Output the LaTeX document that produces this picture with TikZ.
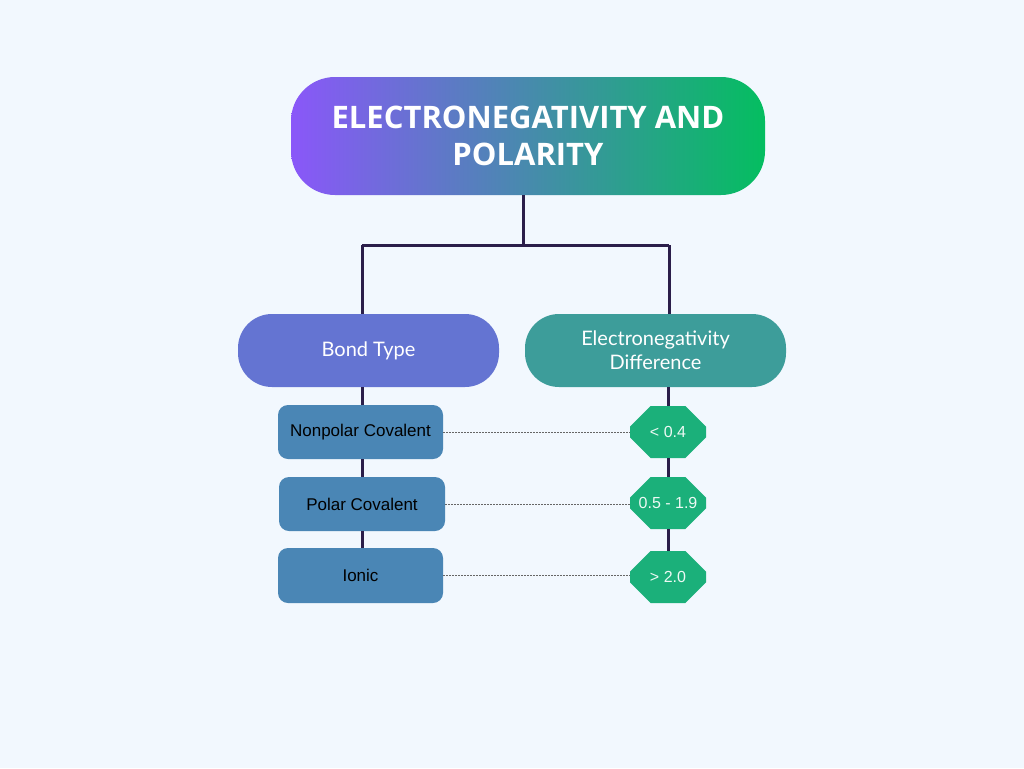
\documentclass[tikz,border=0pt]{standalone}
\usepackage{fontspec}
\setmainfont{Liberation Sans}
\newfontfamily\titlefont{Open Sans}
\newfontfamily\headfont{Lato}
\usetikzlibrary{positioning,shapes.misc}

\definecolor{bgblue}{HTML}{F2F8FE}
\definecolor{titlepurple}{HTML}{8A57F9}
\definecolor{titlegreen}{HTML}{04BE60}
\definecolor{bondblue}{HTML}{6474D2}
\definecolor{diffteal}{HTML}{3D9D9A}
\definecolor{typeblue}{HTML}{4A86B5}
\definecolor{valgreen}{HTML}{1BB07A}
\definecolor{treeline}{HTML}{2B1E4A}

\begin{document}
\begin{tikzpicture}[
  x=1pt, y=-1pt,
  titlebox/.style={rounded corners=44pt, left color=titlepurple, right color=titlegreen, draw=none, minimum width=474pt, minimum height=118pt, inner sep=0pt, align=center, text=white, font=\titlefont\bfseries\fontsize{31}{37}\selectfont},
  headbox/.style={rounded corners=34pt, draw=none, minimum width=261pt, minimum height=73pt, inner sep=0pt, align=center, text=white, font=\headfont\fontsize{20}{24}\selectfont},
  typebox/.style={rounded corners=10pt, fill=typeblue, minimum width=165pt, minimum height=54pt, inner sep=0pt, align=center, text=black, font=\fontsize{17}{20}\selectfont},
  valbox/.style={chamfered rectangle, chamfered rectangle xsep=13pt, chamfered rectangle ysep=15pt, fill=valgreen, minimum width=76pt, minimum height=52pt, inner sep=0pt, text=white!92!valgreen, font=\fontsize{16}{19}\selectfont},
  tree_line/.style={draw=treeline, line width=3pt},
  dot_line/.style={draw=black!60, line width=0.9pt, dash pattern=on 2pt off 1pt}
]
  % page
  \fill[bgblue] (0,0) rectangle (1024,768);

  % title and the two heads
  \node[titlebox] (title) at (528,136) {ELECTRONEGATIVITY AND\\POLARITY};
  \node[headbox, fill=bondblue] (bond) at (368.5,350.5) {Bond Type};
  \node[headbox, fill=diffteal] (diff) at (655.5,350.5) {Electronegativity\\Difference};

  % bond types (left column)
  \node[typebox] (nonpolar) at (360.5,432) {Nonpolar Covalent};
  \node[typebox, minimum width=166pt] (polar) at (362,504) {Polar Covalent};
  \node[typebox, minimum height=55pt] (ionic) at (360.5,575.5) {Ionic};

  % difference values (right column)
  \node[valbox] (lt04) at (668,432) {< 0.4};
  \node[valbox] (mid) at (668,503) {0.5 - 1.9};
  \node[valbox] (gt20) at (668,577) {> 2.0};

  % tree
  \coordinate (split) at (523,245);
  \coordinate (lcol) at (362,245);
  \coordinate (rcol) at (669,245);
  \draw[tree_line] (title.south -| split) -- (split);
  \draw[tree_line] (lcol) -- (rcol);
  \draw[tree_line] (lcol) -- (bond.north -| lcol);
  \draw[tree_line] (rcol) -- (diff.north -| rcol);
  \draw[tree_line] (bond.south -| lcol) -- (nonpolar.north -| lcol);
  \draw[tree_line] (nonpolar.south -| lcol) -- (polar.north -| lcol);
  \draw[tree_line] (polar.south -| lcol) -- (ionic.north -| lcol);
  \draw[tree_line] (diff.south -| lt04) -- (lt04.north);
  \draw[tree_line] (lt04.south) -- (mid.north);
  \draw[tree_line] (mid.south) -- (gt20.north);

  % links between type and value
  \draw[dot_line] (nonpolar.east) -- (lt04.west);
  \draw[dot_line] (polar.east) -- (polar.east -| mid.west);
  \draw[dot_line] (ionic.east) -- (ionic.east -| gt20.west);
\end{tikzpicture}
\end{document}
